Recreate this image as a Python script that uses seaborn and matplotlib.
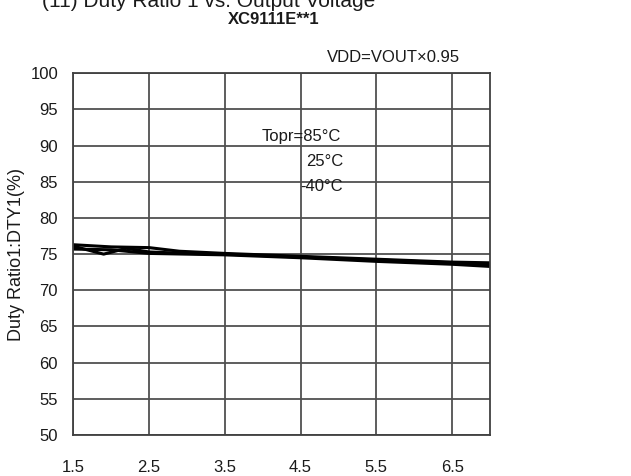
import matplotlib
matplotlib.use("Agg")
import matplotlib.pyplot as plt
import seaborn as sns
import pandas as pd

# readings from the reference chart
vout_85 = [1.5, 2.0, 2.5, 2.9, 3.5, 4.5, 5.5, 6.5, 7.0]
duty_85 = [76.3, 76.0, 75.9, 75.4, 75.1, 74.7, 74.3, 73.9, 73.8]
vout_25 = [1.5, 1.9, 2.2, 2.5, 3.0, 3.5, 4.5, 5.5, 6.5, 7.0]
duty_25 = [76.1, 75.0, 75.8, 75.3, 75.1, 75.0, 74.6, 74.2, 73.8, 73.5]
vout_m40 = [1.5, 2.0, 2.5, 3.5, 4.5, 5.5, 6.5, 7.0]
duty_m40 = [75.7, 75.6, 75.1, 74.9, 74.5, 74.0, 73.6, 73.3]

x_ticks = [1.5, 2.5, 3.5, 4.5, 5.5, 6.5]
y_ticks = [50, 55, 60, 65, 70, 75, 80, 85, 90, 95, 100]

df = pd.concat([
    pd.DataFrame({"vout": vout_85, "duty": duty_85, "topr": "85"}),
    pd.DataFrame({"vout": vout_25, "duty": duty_25, "topr": "25"}),
    pd.DataFrame({"vout": vout_m40, "duty": duty_m40, "topr": "-40"}),
])

sns.set_style("white")
plt.rcParams['font.family'] = ['Liberation Sans', 'DejaVu Sans']
txt = "#1a1a1a"

fig = plt.figure(figsize=(6.31, 4.76), dpi=100)
ax = fig.add_axes([0.1162, 0.0861, 0.6604, 0.760])

sns.lineplot(data=df, x="vout", y="duty", hue="topr", sort=False,
             palette=["black", "black", "black"], linewidth=2.2,
             legend=False, ax=ax, estimator=None)

ax.set_xlim(1.5, 7.0)
ax.set_ylim(50, 100)
ax.set_xticks(x_ticks)
ax.set_yticks(y_ticks)
ax.set_xticklabels([str(v) for v in x_ticks])
ax.grid(True, color="#505050", linewidth=1.3)
for s in ax.spines.values():
    s.set_color("#404040")
    s.set_linewidth(1.3)
ax.tick_params(axis="x", length=0, pad=18, labelsize=12, colors=txt)
ax.tick_params(axis="y", length=0, pad=11, labelsize=12, colors=txt)
ax.set_xlabel("")
ax.set_ylabel("Duty Ratio1:DTY1(%)", fontsize=13, color=txt, labelpad=4)

ax.text(6.6, 101.2, "VDD=VOUT\u00d70.95", ha="right", va="bottom", fontsize=12, color=txt)
ax.text(3.99, 91.3, "Topr=85\u00b0C", ha="left", va="center", fontsize=12, color=txt)
ax.text(4.57, 87.8, "25\u00b0C", ha="left", va="center", fontsize=12, color=txt)
ax.text(4.5, 84.3, "-40\u00b0C", ha="left", va="center", fontsize=12, color=txt)

# top title line is cut off at the image edge in the original scan
fig.text(0.066, 1 - 7 / 476, "(11) Duty Ratio 1 vs. Output Voltage", ha="left", va="baseline",
         fontsize=15, color=txt)
fig.text(0.434, 0.960, "XC9111E**1", ha="center", va="center", fontsize=12,
         fontweight="bold", color=txt)

fig.savefig("out.png", dpi=100)
